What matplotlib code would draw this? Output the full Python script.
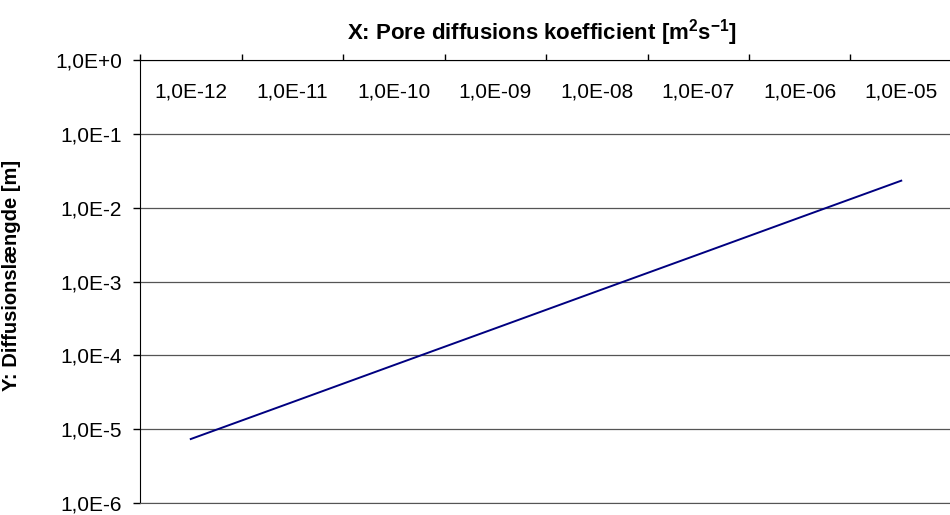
import numpy as np
import matplotlib
matplotlib.use("Agg")
import matplotlib.pyplot as plt
from matplotlib.ticker import FixedLocator, FuncFormatter, NullLocator
import matplotlib.transforms as mtransforms

plt.rcParams['font.family'] = ['Liberation Sans', 'DejaVu Sans']
plt.rcParams['mathtext.default'] = 'regular'

# Pore diffusion coefficient categories and resulting diffusion length
categories = ['1,0E-12', '1,0E-11', '1,0E-10', '1,0E-09',
              '1,0E-08', '1,0E-07', '1,0E-06', '1,0E-05']
diff_length = [7.35e-6, 2.32e-5, 7.35e-5, 2.32e-4,
               7.35e-4, 2.32e-3, 7.35e-3, 2.32e-2]
y_decades = [1e-6, 1e-5, 1e-4, 1e-3, 1e-2, 1e-1, 1e0]

fig = plt.figure(figsize=(9.5, 5.15), dpi=100)
ax = fig.add_axes([140 / 950, 1 - 503 / 515, 812 / 950, 443 / 515])

x = np.arange(len(categories))
ax.plot(x, diff_length, color='#000080', lw=1.4)

ax.set_yscale('log')
ax.set_ylim(1e-6, 1e0)
ax.set_xlim(-0.5, len(categories) - 0.5)

# y axis: decades with excel style labels
ax.yaxis.set_major_locator(FixedLocator(y_decades))
ax.yaxis.set_minor_locator(NullLocator())

def fmt(v, pos):
    e = int(round(np.log10(v)))
    return '1,0E+0' if e == 0 else '1,0E%d' % e

ax.yaxis.set_major_formatter(FuncFormatter(fmt))
ax.tick_params(axis='y', direction='out', length=5, width=1, labelsize=15, pad=8)
ax.grid(axis='y', color='#555555', lw=0.9)
ax.set_axisbelow(True)

# x axis sits on top, tick marks at category borders, labels just below
ax.xaxis.tick_top()
ax.set_xticks(np.arange(len(categories) + 1) - 0.5)
ax.set_xticklabels([])
ax.tick_params(axis='x', direction='out', length=4, width=1)
trans = mtransforms.blended_transform_factory(ax.transData, ax.transAxes)
for i, lab in enumerate(categories):
    ax.text(i, 1 - 32 / 443, lab, transform=trans, ha='center', va='center', fontsize=15)

ax.spines['right'].set_visible(False)
ax.spines['bottom'].set_color('#555555')
ax.spines['left'].set_color('black')
ax.spines['top'].set_color('black')

fig.text(542 / 950, 1 - 33 / 515, 'X: Pore diffusions koefficient [m$^{2}$s$^{-1}$]',
         ha='center', va='center', fontsize=16, fontweight='bold')
fig.text(12 / 950, 1 - 275 / 515, 'Y: Diffusionslængde [m]', rotation=90,
         ha='center', va='center', fontsize=14.5, fontweight='bold')

fig.savefig('out.png', dpi=100)
